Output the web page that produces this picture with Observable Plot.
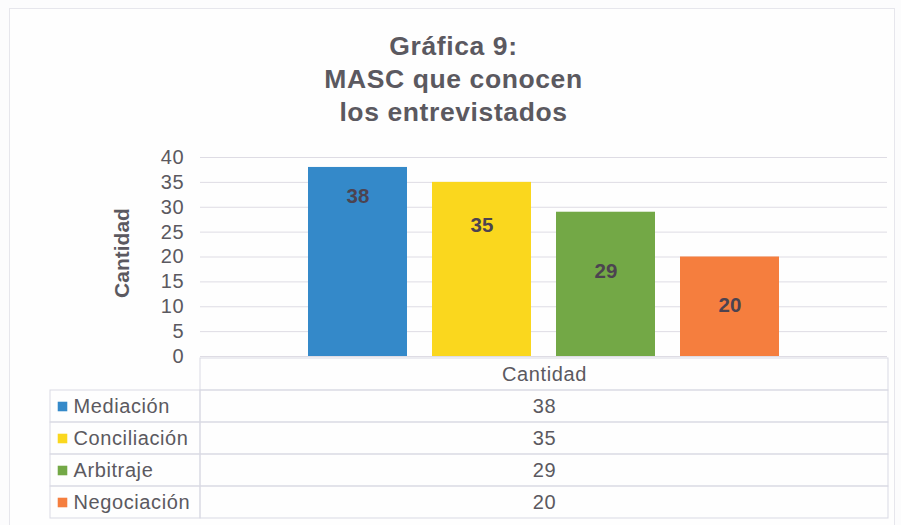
<!DOCTYPE html>
<html>
<head>
<meta charset="utf-8">
<script src="https://cdn.jsdelivr.net/npm/d3@7"></script>
<script src="https://cdn.jsdelivr.net/npm/@observablehq/plot@0.6"></script>
<style>
  html, body { margin: 0; padding: 0; background: #fcfcfd; }
  #wrap { position: relative; width: 901px; height: 525px; overflow: hidden; font-family: "Liberation Sans", Arial, sans-serif; }
  #frame { position: absolute; left: 9px; top: 8px; width: 884px; height: 530px; border: 1px solid #e6e6ec; background: #fefefe; }
  #title { position: absolute; left: 0; top: 29.8px; width: 907px; text-align: center; font-size: 26.5px; letter-spacing: 0.6px; font-weight: bold; line-height: 33.3px; color: #5b5960; }
  .abs { position: absolute; }
  .ls1 text { letter-spacing: 0.6px; }
  .ticks text { letter-spacing: 0.8px; }
</style>
</head>
<body>
<div id="wrap">
  <div id="frame"></div>
  <div id="title"><div>Gráfica 9:</div><div>MASC que conocen</div><div>los entrevistados</div></div>
  <div id="chart" class="abs" style="left:0;top:0"></div>
  <div id="tleft" class="abs ls1" style="left:49px;top:356px"></div>
  <div id="tright" class="abs ls1" style="left:199px;top:356px"></div>
</div>
<script>
// ---- data ----
const categories = ["Mediación", "Conciliación", "Arbitraje", "Negociación"];
const values = [38, 35, 29, 20];
const colors = ["#3489c9", "#fad71e", "#73a846", "#f57e3e"];
const labelAt = [32.2, 26.3, 17.1, 10.3]; // vertical position (in data units) of the in-bar labels as placed in the original
const yTicks = [0, 5, 10, 15, 20, 25, 30, 35, 40];
const seriesName = "Cantidad";
const yLabel = "Cantidad";

const rows = categories.map((c, i) => ({cat: c, value: values[i], color: colors[i], labelAt: labelAt[i]}));
const textColor = "#5b5960";
const gridColor = "#dedce4";
const font = "'Liberation Sans', Arial, sans-serif";

// ---- main chart ----
const chart = Plot.plot({
  width: 901,
  height: 380,
  marginTop: 157,
  marginBottom: 24,
  marginLeft: 200,
  marginRight: 14,
  style: {background: "transparent", fontFamily: font, overflow: "visible"},
  x: {domain: categories, paddingInner: 0.205, paddingOuter: 0.86, axis: null},
  y: {domain: [0, 40], ticks: yTicks, axis: null},
  color: {domain: categories, range: colors},
  marks: [
    Plot.gridY(yTicks, {stroke: gridColor, strokeOpacity: 1}),
    Plot.axisY(yTicks, {tickSize: 0, tickPadding: 16, fontSize: 20, fill: textColor, label: null, className: "ticks"}),
    Plot.barY(rows, {x: "cat", y: "value", fill: "cat"}),
    Plot.text(rows, {x: "cat", y: "labelAt", text: d => String(d.value), fontSize: 20.5, fontWeight: "bold", fill: "#4c4350"}),
    Plot.text([yLabel], {frameAnchor: "left", dx: -78, dy: -4, rotate: -90, text: d => d, textAnchor: "middle", fontSize: 21, fontWeight: "bold", fill: textColor, lineAnchor: "middle"})
  ]
});
document.getElementById("chart").appendChild(chart);

// ---- data table ----
const tableRows = [seriesName, ...categories];
const tableValues = [seriesName, ...values.map(String)];
const border = "#d9dae4";

const left = Plot.plot({
  width: 152, height: 163,
  marginTop: 1, marginBottom: 1, marginLeft: 1, marginRight: 1,
  style: {background: "transparent", fontFamily: font, overflow: "visible"},
  y: {domain: tableRows, padding: 0, axis: null},
  color: {domain: categories, range: colors},
  marks: [
    Plot.cell(categories, {y: d => d, fill: "none", stroke: border, inset: 0}),
    Plot.dot(categories, {y: d => d, frameAnchor: "left", dx: 12, symbol: "square", r: 5.4, fill: d => d, stroke: null}),
    Plot.text(categories, {y: d => d, text: d => d, frameAnchor: "left", dx: 23, textAnchor: "start", fontSize: 20, fill: textColor})
  ]
});
document.getElementById("tleft").appendChild(left);

const right = Plot.plot({
  width: 690, height: 163,
  marginTop: 1, marginBottom: 1, marginLeft: 1, marginRight: 1,
  style: {background: "transparent", fontFamily: font, overflow: "visible"},
  y: {domain: tableRows, padding: 0, axis: null},
  marks: [
    Plot.cell(tableRows, {y: d => d, fill: "none", stroke: border, inset: 0}),
    Plot.text(tableRows, {y: d => d, text: (d, i) => tableValues[i], fontSize: 20, fill: textColor})
  ]
});
document.getElementById("tright").appendChild(right);
</script>
</body>
</html>
